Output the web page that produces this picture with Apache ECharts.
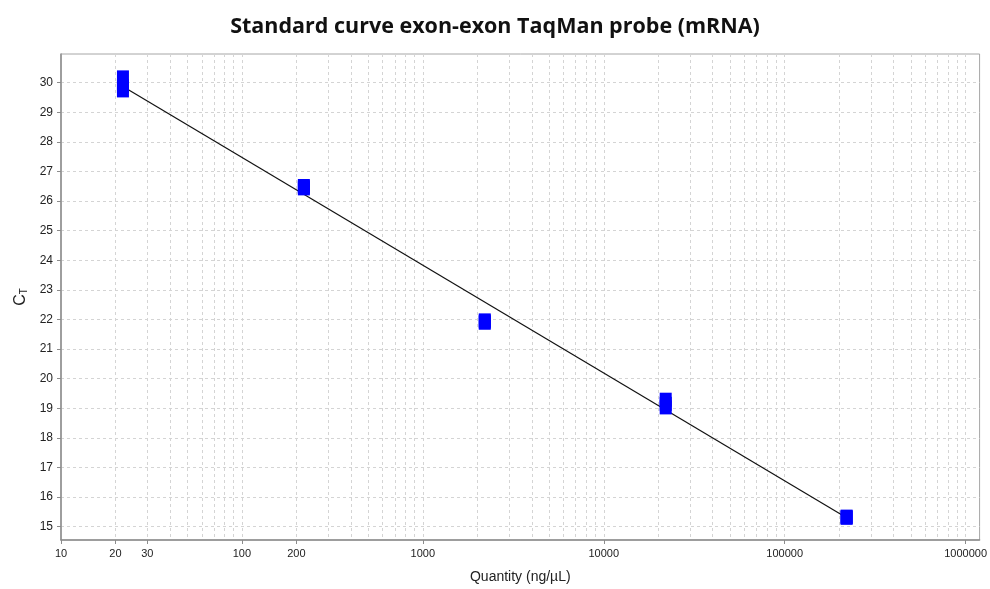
<!DOCTYPE html>
<html>
<head>
<meta charset="utf-8">
<script src="https://cdn.jsdelivr.net/npm/echarts@6/dist/echarts.min.js"></script>
<style>
  html, body { margin: 0; padding: 0; background: #fff; }
  #chart { width: 990px; height: 589px; }
</style>
</head>
<body>
<div id="chart"></div>
<script>
// Standard dilution quantities (ng/µL) and replicate Ct readings
const quantities = [22, 220, 2200, 22000, 220000];
const ctRep1 = [29.74, 26.43, 21.89, 19.03, 15.30];
const ctRep2 = [29.88, 26.47, 21.93, 19.15, 15.32];
const ctRep3 = [30.18, 26.51, 21.97, 19.29, 15.34];

// End points of the fitted standard curve
const fitQuantity = [22, 220000];
const fitCt = [29.87, 15.30];

// Axis tick labels
const xTickLabels = [10, 20, 30, 100, 200, 1000, 10000, 100000, 1000000];
const yTickLabels = [15, 16, 17, 18, 19, 20, 21, 22, 23, 24, 25, 26, 27, 28, 29, 30];

// Log grid: every 1..9 multiple of each decade
const xGridValues = [];
for (let d = 10; d <= 1000000; d *= 10) {
  for (let m = 1; m <= 9; m++) {
    const v = d * m;
    if (v <= 1000000) xGridValues.push(v);
  }
}

const points = [];
[ctRep1, ctRep2, ctRep3].forEach(rep => {
  rep.forEach((ct, i) => points.push([quantities[i], ct]));
});
const fitLine = fitQuantity.map((q, i) => [q, fitCt[i]]);

const gridDash = { color: '#d4d4d4', width: 1, type: [3, 3] };
const labelFont = { fontFamily: 'Liberation Sans, Arial, sans-serif', color: '#222' };
const plainNumber = v => String(Math.round(v));

const chart = echarts.init(document.getElementById('chart'), null, { renderer: 'canvas' });
chart.setOption({
  animation: false,
  backgroundColor: '#fff',
  title: {
    text: 'Standard curve exon-exon TaqMan probe (mRNA)',
    left: 'center',
    top: 11,
    textStyle: { fontFamily: 'Open Sans, sans-serif', fontWeight: 'bold', fontSize: 21.5, color: '#111' }
  },
  grid: {
    left: 61, right: 8, top: 54, bottom: 46,
    show: true, borderColor: '#a6a6a6', borderWidth: 1, backgroundColor: 'transparent'
  },
  xAxis: [
    {
      type: 'log', logBase: 10, min: 10, max: 1195000,
      name: 'Quantity (ng/µL)', nameLocation: 'middle', nameGap: 30,
      nameTextStyle: { ...labelFont, fontSize: 14 },
      axisLine: { show: false },
      axisTick: { show: false, customValues: xGridValues },
      splitLine: { show: true, lineStyle: gridDash },
      axisLabel: { customValues: xTickLabels, formatter: plainNumber, ...labelFont, fontSize: 11, margin: 8 }
    },
    {
      type: 'log', logBase: 10, min: 10, max: 1195000, position: 'bottom',
      axisLine: { show: true, onZero: false, lineStyle: { color: '#8c8c8c', width: 1.5 } },
      axisTick: { show: true, length: 4, customValues: xTickLabels, lineStyle: { color: '#8c8c8c' } },
      splitLine: { show: false },
      axisLabel: { show: false }
    }
  ],
  yAxis: {
    type: 'value', min: 14.55, max: 30.97,
    name: '{c|C}{t|T}', nameLocation: 'middle', nameGap: 31, nameRotate: 90,
    nameTextStyle: {
      rich: {
        c: { ...labelFont, fontSize: 16 },
        t: { ...labelFont, fontSize: 10, verticalAlign: 'bottom', padding: [4, 0, 0, 0] }
      }
    },
    axisLine: { show: true, lineStyle: { color: '#8c8c8c', width: 1.5 } },
    axisTick: { show: true, length: 4, customValues: yTickLabels, lineStyle: { color: '#8c8c8c' } },
    splitLine: { show: true, lineStyle: gridDash },
    axisLabel: { customValues: yTickLabels, ...labelFont, fontSize: 12, margin: 8 }
  },
  series: [
    {
      type: 'line', data: fitLine, xAxisIndex: 0,
      showSymbol: false, symbol: 'none', silent: true,
      lineStyle: { color: '#111', width: 1.2 }, z: 2
    },
    {
      type: 'scatter', data: points, xAxisIndex: 0,
      symbol: 'rect', symbolSize: [12, 14],
      itemStyle: { color: '#0000ff', opacity: 1 },
      z: 3
    }
  ]
});
</script>
</body>
</html>
